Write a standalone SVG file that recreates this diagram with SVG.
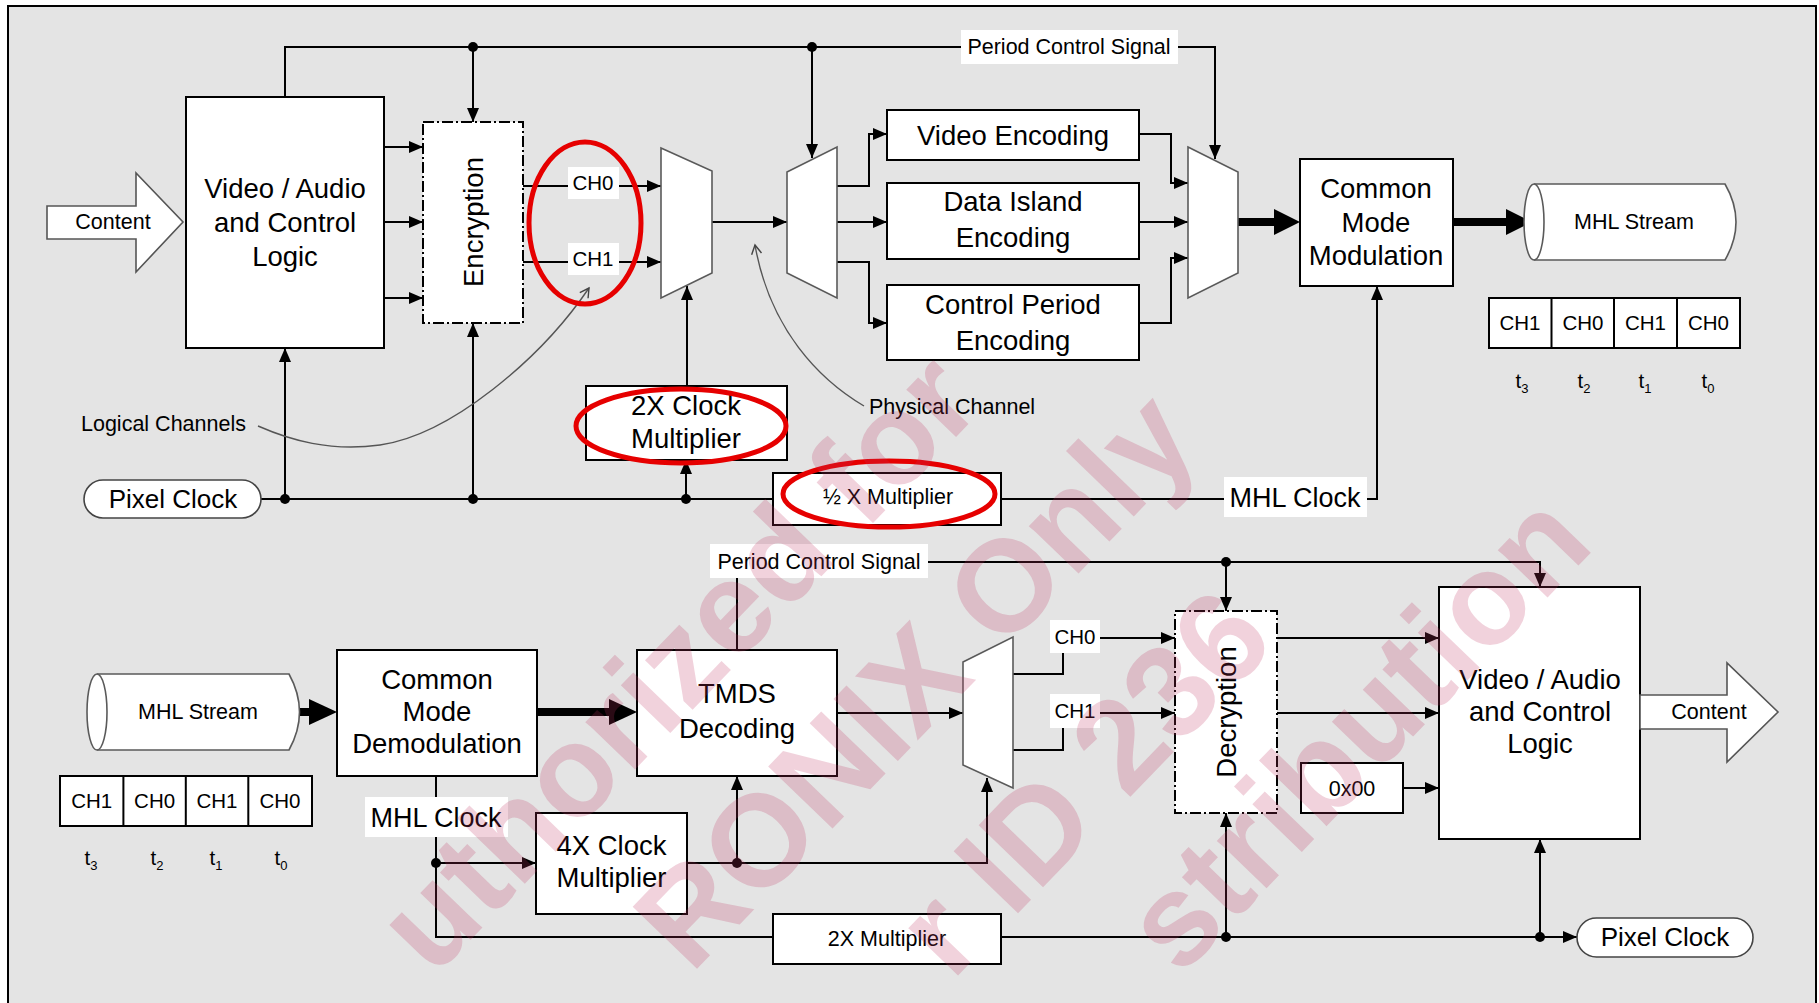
<svg xmlns="http://www.w3.org/2000/svg" width="1819" height="1003" viewBox="0 0 1819 1003">
<defs>
<style>
.bg{fill:#e4e4e4;stroke:#000;stroke-width:2}
.box{fill:#fff;stroke:#000;stroke-width:2}
.dash{fill:#fff;stroke:#000;stroke-width:2;stroke-dasharray:11 3 2 3}
.mux{fill:#fff;stroke:#5a5a5a;stroke-width:1.6}
.cyl{fill:#fff;stroke:#5a5a5a;stroke-width:1.6}
.pill{fill:#fff;stroke:#444;stroke-width:1.6}
.lab{fill:#fff}
.ln{fill:none;stroke:#000;stroke-width:2}
.arr{fill:none;stroke:#000;stroke-width:2;marker-end:url(#ah)}
.thick{fill:none;stroke:#000;stroke-width:8}
.head{fill:#000}
.dot{fill:#000}
.curve{fill:none;stroke:#555;stroke-width:1.4;marker-end:url(#oh)}
.red{fill:none;stroke:#e60000;stroke-width:5}
text{font-family:"Liberation Sans",Arial,sans-serif;fill:#000;text-anchor:middle}
.big{font-size:27.5px}
.sm{font-size:21.5px}
.ch{font-size:20.5px}
.clk{font-size:27px}
.sub{font-size:13px}
.wm{font-family:"Liberation Sans",Arial,sans-serif;font-weight:bold;font-size:130px;fill:#c03060;fill-opacity:0.22}
</style>
<marker id="ah" markerWidth="14" markerHeight="12" refX="14" refY="6" orient="auto" markerUnits="userSpaceOnUse"><path d="M0,0 L14,6 L0,12 z" fill="#000"/></marker>
<marker id="oh" markerWidth="12" markerHeight="12" refX="10" refY="6" orient="auto" markerUnits="userSpaceOnUse"><path d="M1,1 L10,6 L1,11" fill="none" stroke="#444" stroke-width="1.4"/></marker>
</defs>

<rect x="0" y="0" width="1819" height="1003" fill="#fff"/>
<rect class="bg" x="8" y="6" width="1808" height="1010"/>

<g id="connectors">
  <!-- top: period control -->
  <path class="ln" d="M285,97 V47 H961"/>
  <path class="arr" d="M1178,47 H1215 V159"/>
  <path class="arr" d="M473,47 V122"/>
  <path class="arr" d="M812,47 V158"/>
  <!-- VA to encryption -->
  <path class="arr" d="M384,147 H423"/>
  <path class="arr" d="M384,222 H423"/>
  <path class="arr" d="M384,298 H423"/>
  <!-- encryption to mux1 -->
  <path class="arr" d="M523,186 H661"/>
  <path class="arr" d="M523,262 H661"/>
  <path class="arr" d="M712,222 H787"/>
  <path class="arr" d="M687,386 V286"/>
  <!-- mux2 outputs -->
  <path class="arr" d="M837,186 H869 V134 H887"/>
  <path class="arr" d="M837,222 H887"/>
  <path class="arr" d="M837,262 H869 V323 H887"/>
  <!-- encoders to mux3 -->
  <path class="arr" d="M1139,134 H1171 V183 H1188"/>
  <path class="arr" d="M1139,222 H1188"/>
  <path class="arr" d="M1139,323 H1171 V258 H1188"/>
  <!-- thick -->
  <path class="thick" d="M1238,222 H1278"/>
  <polygon class="head" points="1274,209 1300,222 1274,235"/>
  <path class="thick" d="M1453,222 H1510"/>
  <polygon class="head" points="1506,209 1532,222 1506,235"/>
  <!-- pixel clock line top -->
  <path class="ln" d="M261,499 H773"/>
  <path class="ln" d="M1001,499 H1224"/>
  <path class="arr" d="M1367,499 H1377 V286"/>
  <path class="arr" d="M285,499 V348"/>
  <path class="arr" d="M473,499 V323"/>
  <path class="arr" d="M686,499 V460"/>
  <circle class="dot" cx="473" cy="47" r="5"/>
  <circle class="dot" cx="812" cy="47" r="5"/>
  <circle class="dot" cx="285" cy="499" r="5"/>
  <circle class="dot" cx="473" cy="499" r="5"/>
  <circle class="dot" cx="686" cy="499" r="5"/>
  <!-- annotation curves -->
  <path class="curve" d="M258,426 C290,440 330,452 380,445 C450,435 540,360 589,288"/>
  <path class="curve" d="M864,406 C820,380 770,330 755,245"/>

  <!-- bottom -->
  <path class="thick" d="M294,712 H312"/>
  <polygon class="head" points="309,699 337,712 309,725"/>
  <path class="thick" d="M537,712 H612"/>
  <polygon class="head" points="609,699 637,712 609,725"/>
  <path class="ln" d="M436,776 V937 H773"/>
  <path class="arr" d="M436,863 H536"/>
  <path class="arr" d="M687,863 H987 V778"/>
  <path class="arr" d="M737,863 V776"/>
  <circle class="dot" cx="436" cy="863" r="5"/>
  <circle class="dot" cx="737" cy="863" r="5"/>
  <path class="ln" d="M737,650 V578"/>
  <path class="arr" d="M928,562 H1540 V587"/>
  <path class="arr" d="M1226,562 V611"/>
  <circle class="dot" cx="1226" cy="562" r="5"/>
  <path class="arr" d="M837,713 H963"/>
  <path class="ln" d="M1013,674 H1063 V653"/>
  <path class="ln" d="M1013,750 H1063 V728"/>
  <path class="arr" d="M1100,638 H1175"/>
  <path class="arr" d="M1100,713 H1175"/>
  <path class="arr" d="M1277,638 H1439"/>
  <path class="arr" d="M1277,713 H1439"/>
  <path class="arr" d="M1403,788 H1439"/>
  <path class="arr" d="M1001,937 H1577"/>
  <path class="arr" d="M1226,937 V813"/>
  <path class="arr" d="M1540,937 V839"/>
  <circle class="dot" cx="1226" cy="937" r="5"/>
  <circle class="dot" cx="1540" cy="937" r="5"/>
</g>

<!-- ===== TOP (transmitter) ===== -->
<g id="content-in">
  <polygon points="47,206 136,206 136,173 183,222 136,272 136,239 47,239" fill="#fff" stroke="#555" stroke-width="1.6"/>
  <text class="sm" x="113" y="229">Content</text>
</g>
<g id="va-logic-tx">
  <rect class="box" x="186" y="97" width="198" height="251"/>
  <text class="big" x="285" y="198">Video / Audio</text>
  <text class="big" x="285" y="232">and Control</text>
  <text class="big" x="285" y="266">Logic</text>
</g>
<g id="encryption">
  <rect class="dash" x="423" y="122" width="100" height="201"/>
  <text class="big" x="473" y="232" transform="rotate(-90 473 222)">Encryption</text>
</g>
<g id="ch0-tx"><rect class="lab" x="568" y="167" width="51" height="32"/><text class="ch" x="593" y="190">CH0</text></g>
<g id="ch1-tx"><rect class="lab" x="568" y="243" width="51" height="32"/><text class="ch" x="593" y="266">CH1</text></g>
<g id="mux1"><polygon class="mux" points="661,148 712,171 712,273 661,298"/></g>
<g id="mux2"><polygon class="mux" points="787,172 837,147 837,298 787,273"/></g>
<g id="pcs-tx"><rect class="lab" x="961" y="30" width="217" height="34"/><text class="sm" x="1069" y="54">Period Control Signal</text></g>
<g id="video-enc">
  <rect class="box" x="887" y="110" width="252" height="50"/>
  <text class="big" x="1013" y="145">Video Encoding</text>
</g>
<g id="data-island">
  <rect class="box" x="887" y="183" width="252" height="76"/>
  <text class="big" x="1013" y="211">Data Island</text>
  <text class="big" x="1013" y="247">Encoding</text>
</g>
<g id="control-period">
  <rect class="box" x="887" y="285" width="252" height="75"/>
  <text class="big" x="1013" y="314">Control Period</text>
  <text class="big" x="1013" y="350">Encoding</text>
</g>
<g id="mux3"><polygon class="mux" points="1188,147 1238,172 1238,273 1188,298"/></g>
<g id="cm-mod">
  <rect class="box" x="1300" y="159" width="153" height="127"/>
  <text class="big" x="1376" y="198">Common</text>
  <text class="big" x="1376" y="232">Mode</text>
  <text class="big" x="1376" y="265">Modulation</text>
</g>
<g id="mhl-stream-tx">
  <path class="cyl" d="M1534,184 H1725 Q1747,222 1725,260 H1534"/>
  <ellipse class="cyl" cx="1534" cy="222" rx="10" ry="38"/>
  <text class="sm" x="1634" y="229">MHL Stream</text>
</g>
<g id="ch-seq-tx">
  <rect class="box" x="1489" y="298" width="251" height="50"/>
  <path class="ln" d="M1551.5,298 V348 M1614,298 V348 M1677,298 V348"/>
  <text class="ch" x="1520" y="330">CH1</text>
  <text class="ch" x="1583" y="330">CH0</text>
  <text class="ch" x="1645.5" y="330">CH1</text>
  <text class="ch" x="1708.5" y="330">CH0</text>
  <text class="ch" x="1522" y="388">t<tspan class="sub" dy="5">3</tspan></text>
  <text class="ch" x="1584" y="388">t<tspan class="sub" dy="5">2</tspan></text>
  <text class="ch" x="1645" y="388">t<tspan class="sub" dy="5">1</tspan></text>
  <text class="ch" x="1708" y="388">t<tspan class="sub" dy="5">0</tspan></text>
</g>
<g id="clk2x-tx">
  <rect class="box" x="586" y="386" width="201" height="74"/>
  <text class="big" x="686" y="415">2X Clock</text>
  <text class="big" x="686" y="448">Multiplier</text>
</g>
<g id="half-mult">
  <rect class="box" x="773" y="473" width="228" height="52"/>
  <text class="sm" x="888" y="504">½ X Multiplier</text>
</g>
<g id="mhl-clock-tx"><rect class="lab" x="1224" y="477" width="143" height="40"/><text class="clk" x="1295" y="507">MHL Clock</text></g>
<g id="pixel-clock-tx">
  <rect class="pill" x="84" y="480" width="177" height="38" rx="19"/>
  <text x="173" y="508" font-size="26">Pixel Clock</text>
</g>
<g id="logical-channels"><text class="sm" x="81" y="431" style="text-anchor:start">Logical Channels</text></g>
<g id="physical-channel"><text class="sm" x="869" y="414" style="text-anchor:start">Physical Channel</text></g>

<!-- ===== BOTTOM (receiver) ===== -->
<g id="mhl-stream-rx">
  <path class="cyl" d="M97,674 H289 Q310,712 289,750 H97"/>
  <ellipse class="cyl" cx="97" cy="712" rx="10" ry="38"/>
  <text class="sm" x="198" y="719">MHL Stream</text>
</g>
<g id="ch-seq-rx">
  <rect class="box" x="60" y="776" width="252" height="50"/>
  <path class="ln" d="M123.4,776 V826 M185.8,776 V826 M248.3,776 V826"/>
  <text class="ch" x="91.7" y="808">CH1</text>
  <text class="ch" x="154.6" y="808">CH0</text>
  <text class="ch" x="217" y="808">CH1</text>
  <text class="ch" x="280" y="808">CH0</text>
  <text class="ch" x="91" y="865">t<tspan class="sub" dy="5">3</tspan></text>
  <text class="ch" x="157" y="865">t<tspan class="sub" dy="5">2</tspan></text>
  <text class="ch" x="216" y="865">t<tspan class="sub" dy="5">1</tspan></text>
  <text class="ch" x="281" y="865">t<tspan class="sub" dy="5">0</tspan></text>
</g>
<g id="cm-demod">
  <rect class="box" x="337" y="650" width="200" height="126"/>
  <text class="big" x="437" y="689">Common</text>
  <text class="big" x="437" y="721">Mode</text>
  <text class="big" x="437" y="753">Demodulation</text>
</g>
<g id="mhl-clock-rx"><rect class="lab" x="365" y="797" width="143" height="40"/><text class="clk" x="436" y="827">MHL Clock</text></g>
<g id="clk4x">
  <rect class="box" x="536" y="813" width="151" height="101"/>
  <text class="big" x="611.5" y="855">4X Clock</text>
  <text class="big" x="611.5" y="887">Multiplier</text>
</g>
<g id="tmds">
  <rect class="box" x="637" y="650" width="200" height="126"/>
  <text class="big" x="737" y="703">TMDS</text>
  <text class="big" x="737" y="738">Decoding</text>
</g>
<g id="pcs-rx"><rect class="lab" x="710" y="544" width="218" height="34"/><text class="sm" x="819" y="569">Period Control Signal</text></g>
<g id="mux4"><polygon class="mux" points="963,662 1013,637 1013,788 963,765"/></g>
<g id="ch0-rx"><rect class="lab" x="1050" y="620" width="50" height="33"/><text class="ch" x="1075" y="644">CH0</text></g>
<g id="ch1-rx"><rect class="lab" x="1050" y="694" width="50" height="34"/><text class="ch" x="1075" y="718">CH1</text></g>
<g id="decryption">
  <rect class="dash" x="1175" y="611" width="102" height="202"/>
  <text class="big" x="1226" y="722" transform="rotate(-90 1226 712)">Decryption</text>
</g>
<g id="zero">
  <rect class="box" x="1301" y="763" width="102" height="50"/>
  <text class="sm" x="1352" y="796">0x00</text>
</g>
<g id="va-logic-rx">
  <rect class="box" x="1439" y="587" width="201" height="252"/>
  <text class="big" x="1540" y="689">Video / Audio</text>
  <text class="big" x="1540" y="721">and Control</text>
  <text class="big" x="1540" y="753">Logic</text>
</g>
<g id="content-out">
  <polygon points="1640,695 1727,695 1727,663 1778,712 1727,762 1727,729 1640,729" fill="#fff" stroke="#555" stroke-width="1.6"/>
  <text class="sm" x="1709" y="719">Content</text>
</g>
<g id="mult2x-rx">
  <rect class="box" x="773" y="914" width="228" height="50"/>
  <text class="sm" x="887" y="946">2X Multiplier</text>
</g>
<g id="pixel-clock-rx">
  <rect class="pill" x="1577" y="918" width="176" height="39" rx="19.5"/>
  <text x="1665" y="946" font-size="26">Pixel Clock</text>
</g>

<!-- red highlight ellipses -->
<g id="highlights">
  <ellipse class="red" cx="585" cy="223" rx="56" ry="81"/>
  <ellipse class="red" cx="681" cy="426" rx="105" ry="37"/>
  <ellipse class="red" cx="889" cy="494" rx="106" ry="33"/>
</g>

<!-- watermark (visible parts only) -->
<g id="watermark">
  <text class="wm" x="985" y="407" style="text-anchor:end" transform="rotate(-46 985 407)">uthorized for</text>
  <text class="wm" x="691" y="975" style="text-anchor:start" transform="rotate(-46 691 975)">RONIX Only</text>
  <text class="wm" x="1278" y="644" style="text-anchor:end" transform="rotate(-46 1278 644)">r ID 236</text>
  <text class="wm" x="1180" y="978" style="text-anchor:start" transform="rotate(-46 1180 978)">stribution</text>
</g>
</svg>
